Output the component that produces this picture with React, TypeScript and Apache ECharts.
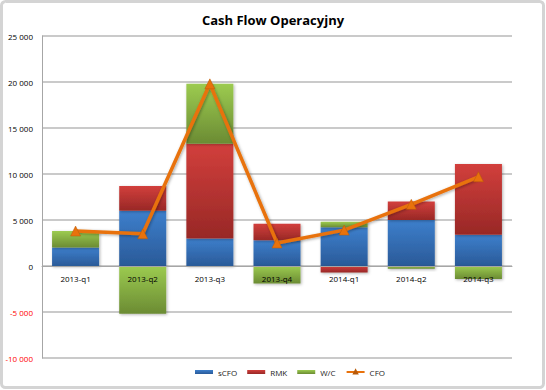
import React, { useEffect, useRef } from "react";
import * as echarts from "echarts";

const categories = ["2013-q1", "2013-q2", "2013-q3", "2013-q4", "2014-q1", "2014-q2", "2014-q3"];
const sCFO = [2000, 6000, 3000, 2800, 4200, 5000, 3400];
const RMK = [0, 2700, 10300, 1800, -700, 2000, 7700];
const WC = [1800, -5200, 6500, -1900, 600, -300, -1400];
const CFO = [3800, 3500, 19800, 2500, 3900, 6700, 9700];

const fmt = (v: number) => String(v).replace(/\B(?=(\d{3})+(?!\d))/g, " ");

const grad = (top: string, bottom: string) =>
  new echarts.graphic.LinearGradient(0, 0, 0, 1, [
    { offset: 0, color: top },
    { offset: 1, color: bottom },
  ]);

export default function App() {
  const ref = useRef<HTMLDivElement>(null);
  useEffect(() => {
    if (!ref.current) return;
    const chart = echarts.init(ref.current, undefined, { renderer: "svg" });
    const font = "'Open Sans', 'DejaVu Sans', sans-serif";
    const shadow = {
      shadowColor: "rgba(0,0,0,0.3)",
      shadowBlur: 3,
      shadowOffsetX: 1,
      shadowOffsetY: 1,
    };
    const barCommon = {
      type: "bar",
      stack: "total",
      barWidth: 47,
    };
    chart.setOption({
      animation: false,
      backgroundColor: "#ffffff",
      textStyle: { fontFamily: font },
      title: {
        text: "Cash Flow Operacyjny",
        left: "center",
        top: 8,
        textStyle: { fontSize: 13, fontWeight: "bold", color: "#000", fontFamily: font },
      },
      graphic: [
        {
          type: "rect",
          shape: { x: 1.5, y: 1.5, width: 542, height: 386, r: 4 },
          style: { fill: "none", stroke: "#d4d4d4", lineWidth: 3 },
          silent: true,
        },
      ],
      legend: {
        bottom: 9,
        left: 190,
        itemGap: 10,
        itemWidth: 18,
        itemHeight: 4,
        textStyle: { fontSize: 8, color: "#222", fontFamily: font },
        data: [
          { name: "sCFO", icon: "rect" },
          { name: "RMK", icon: "rect" },
          { name: "W/C", icon: "rect" },
          { name: "CFO" },
        ],
      },
      grid: { left: 42, right: 34, top: 36, bottom: 32, containLabel: false },
      xAxis: {
        type: "category",
        data: categories,
        offset: -92,
        z: 10,
        axisLine: { onZero: false, lineStyle: { color: "#a6a6a6", width: 1 } },
        axisTick: { show: false },
        axisLabel: { fontSize: 8, color: "#000", margin: 8, fontFamily: font },
      },
      yAxis: {
        type: "value",
        min: -10000,
        max: 25000,
        interval: 5000,
        axisLine: { show: true, lineStyle: { color: "#a6a6a6", width: 1 } },
        axisTick: { show: false },
        splitLine: { lineStyle: { color: "#b8b8b8", width: 1.5 } },
        axisLabel: {
          fontSize: 8,
          margin: 9,
          fontFamily: font,
          formatter: (v: number) => fmt(v),
          color: (v: any) => (Number(v) < 0 ? "#ff0000" : "#000"),
        },
      },
      series: [
        {
          ...barCommon,
          name: "sCFO",
          data: sCFO,
          itemStyle: { color: grad("#3d7fcc", "#2a5a98"), ...shadow },
        },
        {
          ...barCommon,
          name: "RMK",
          data: RMK,
          itemStyle: { color: grad("#d23f3c", "#982826"), ...shadow },
        },
        {
          ...barCommon,
          name: "W/C",
          data: WC,
          itemStyle: { color: grad("#9ccb50", "#6b8b33"), ...shadow },
        },
        {
          type: "line",
          name: "CFO",
          data: CFO,
          symbol: "triangle",
          symbolSize: 10,
          z: 5,
          lineStyle: {
            color: "#e8720c",
            width: 3.5,
            shadowColor: "rgba(0,0,0,0.35)",
            shadowBlur: 3,
            shadowOffsetX: 1,
            shadowOffsetY: 1,
          },
          itemStyle: { color: "#e8720c", borderColor: "#b85a08", borderWidth: 0.5 },
        },
      ],
    });
    return () => chart.dispose();
  }, []);
  return (
    <div
      ref={ref}
      style={{ position: "absolute", left: 0, top: 0, width: 546, height: 390 }}
    />
  );
}
